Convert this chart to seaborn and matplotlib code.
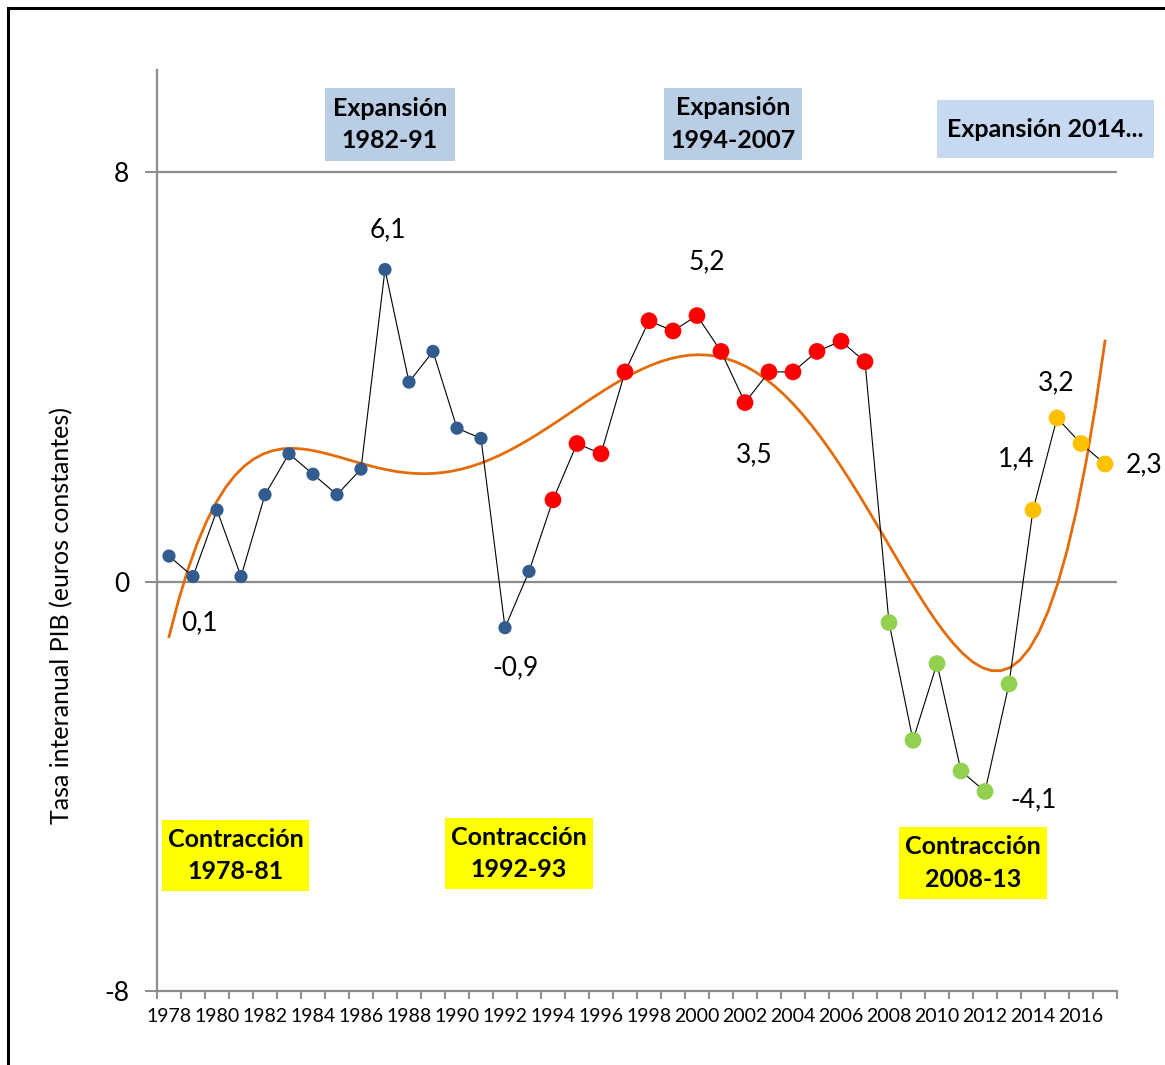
import numpy as np
import pandas as pd
import matplotlib
matplotlib.use('Agg')
import matplotlib.pyplot as plt
from matplotlib.patches import Rectangle
import seaborn as sns

# Tasa interanual del PIB, 1978-2017
years = list(range(1978, 2018))
gdp = [0.5, 0.1, 1.4, 0.1, 1.7, 2.5, 2.1, 1.7, 2.2, 6.1,
       3.9, 4.5, 3.0, 2.8, -0.9, 0.2, 1.6, 2.7, 2.5, 4.1,
       5.1, 4.9, 5.2, 4.5, 3.5, 4.1, 4.1, 4.5, 4.7, 4.3,
       -0.8, -3.1, -1.6, -3.7, -4.1, -2.0, 1.4, 3.2, 2.7, 2.3]
phase = (['1978-93'] * 16 + ['1994-2007'] * 14 + ['2008-13'] * 6 + ['2014-17'] * 4)
phase_colors = {'1978-93': '#335C8E', '1994-2007': '#FF0000',
                '2008-13': '#92D050', '2014-17': '#FFC000'}
phase_sizes = {'1978-93': 90, '1994-2007': 145, '2008-13': 145, '2014-17': 145}

# etiquetas de valores: año -> (texto, desplazamiento en píxeles)
value_labels = {1987: ('6,1', (3, 40)), 2000: ('5,2', (10, 54)), 2002: ('3,5', (9, -52)),
                1979: ('0,1', (6, -46)), 1992: ('-0,9', (10, -40)), 2012: ('-4,1', (49, -8)),
                2014: ('1,4', (-17, 51)), 2015: ('3,2', (-1, 35)), 2017: ('2,3', (39, -1))}

df = pd.DataFrame({'year': years, 'gdp': gdp, 'phase': phase})

W, H = 1165, 1065
plt.rcParams['font.family'] = ['Lato', 'DejaVu Sans']
fig = plt.figure(figsize=(W / 100, H / 100), dpi=100)
ax = fig.add_axes([157 / W, 1 - 991 / H, (1117 - 157) / W, (991 - 70) / H])

grey = '#8C8C8C'
ax.axhline(8, color=grey, lw=1.6, zorder=0)
ax.axhline(0, color=grey, lw=1.6, zorder=0)

# tendencia polinómica
sns.regplot(data=df, x='year', y='gdp', order=5, scatter=False, ci=None, ax=ax,
            line_kws={'color': '#E46C0A', 'lw': 2.0, 'zorder': 2})
sns.lineplot(data=df, x='year', y='gdp', color='black', lw=0.8, ax=ax, zorder=3)
for ph, sub in df.groupby('phase'):
    sns.scatterplot(data=sub, x='year', y='gdp', color=phase_colors[ph], s=phase_sizes[ph],
                    edgecolor='none', ax=ax, zorder=4, legend=False)

for yr, (txt, off) in value_labels.items():
    ax.annotate(txt, (yr, gdp[years.index(yr)]), xytext=off, textcoords='offset pixels',
                ha='center', va='center', fontsize=19, color='black')

ax.set_xlim(1977.5, 2017.5)
ax.set_ylim(-8, 10)
ax.set_yticks([-8, 0, 8])
ax.set_yticklabels(['-8', '0', '8'], fontsize=19)
ax.set_xticks(range(1978, 2017, 2))
ax.set_xticklabels([str(y) for y in range(1978, 2017, 2)], fontsize=14)
ax.set_xticks(np.arange(1977.5, 2018, 1), minor=True)
ax.tick_params(axis='x', which='major', length=0, pad=12)
ax.tick_params(axis='x', which='minor', length=6, color=grey, width=1.4)
ax.tick_params(axis='y', length=9, color=grey, width=1.4, pad=11)
ax.set_xlabel('')
ax.set_ylabel('')
for s in ['top', 'right']:
    ax.spines[s].set_visible(False)
for s in ['left', 'bottom']:
    ax.spines[s].set_color(grey)
    ax.spines[s].set_linewidth(1.6)

fig.text(62 / W, 1 - 615 / H, 'Tasa interanual PIB (euros constantes)', rotation=90,
         ha='center', va='center', fontsize=18)


def box(x0, y0, x1, y1, lines, color):
    fig.patches.append(Rectangle((x0 / W, 1 - y1 / H), (x1 - x0) / W, (y1 - y0) / H,
                                 transform=fig.transFigure, facecolor=color,
                                 edgecolor='none', zorder=5))
    fig.text((x0 + x1) / 2 / W, 1 - (y0 + y1) / 2 / H, '\n'.join(lines), ha='center',
             va='center', fontsize=18, fontweight='bold', linespacing=1.5, zorder=6)


box(325, 88, 455, 161, ['Expansión', '1982-91'], '#B9CDE5')
box(664, 88, 802, 160, ['Expansión', '1994-2007'], '#B9CDE5')
box(937, 100, 1154, 158, ['Expansión 2014...'], '#C6D9F1')
box(162, 820, 309, 891, ['Contracción', '1978-81'], '#FFFF00')
box(445, 818, 593, 889, ['Contracción', '1992-93'], '#FFFF00')
box(899, 827, 1047, 899, ['Contracción', '2008-13'], '#FFFF00')

# marco exterior
fig.patches.append(Rectangle((8 / W, -0.1), 1.2, 1 - 8 / H + 0.1, transform=fig.transFigure,
                             facecolor='none', edgecolor='black', lw=2.2, zorder=10))

fig.savefig('out.png', dpi=100)
